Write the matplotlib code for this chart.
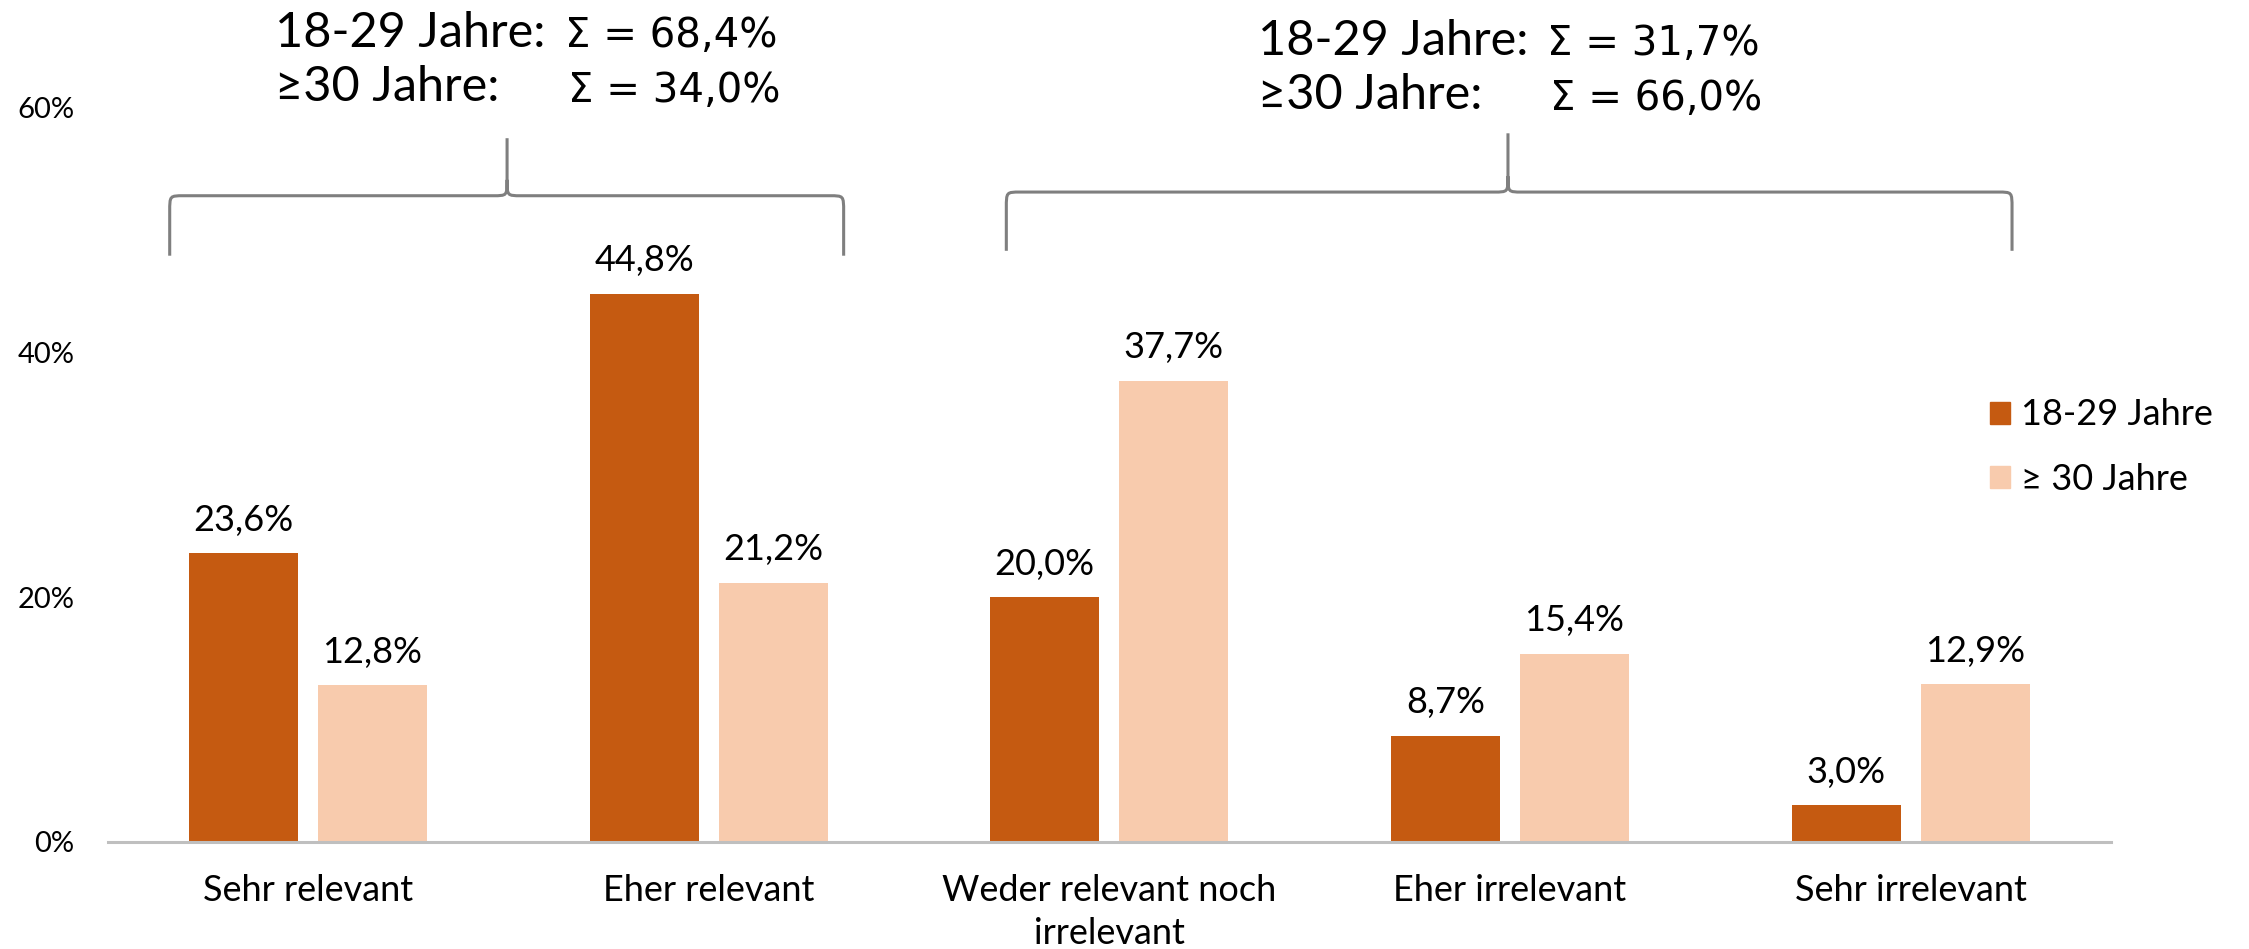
import matplotlib
matplotlib.use("Agg")
import matplotlib.pyplot as plt
from matplotlib.path import Path
from matplotlib.patches import PathPatch, Patch

plt.rcParams['font.family'] = ['Lato', 'DejaVu Sans']

categories = ["Sehr relevant", "Eher relevant", "Weder relevant noch\nirrelevant",
              "Eher irrelevant", "Sehr irrelevant"]
series_names = ["18-29 Jahre", "\u2265 30 Jahre"]
young = [23.6, 44.8, 20.0, 8.7, 3.0]
older = [12.8, 21.2, 37.7, 15.4, 12.9]
yticks = [0, 20, 40, 60]
sum_left = ["18-29 Jahre:", "\u226530 Jahre:"]
sum_left_vals = ["\u03a3 = 68,4%", "\u03a3 = 34,0%"]
sum_right = ["18-29 Jahre:", "\u226530 Jahre:"]
sum_right_vals = ["\u03a3 = 31,7%", "\u03a3 = 66,0%"]

c_dark = "#C55A11"
c_light = "#F8CBAD"

W, H = 2249, 949
fig = plt.figure(figsize=(W / 100, H / 100), dpi=100)
ax = fig.add_axes([107.6 / W, 1 - 842 / H, (2111 - 107.6) / W, (842 - 107.6) / H])

x = list(range(len(categories)))
bw = 0.272
off = 0.161
b1 = ax.bar([i - off for i in x], young, width=bw, color=c_dark, label=series_names[0])
b2 = ax.bar([i + off for i in x], older, width=bw, color=c_light, label=series_names[1])

for bars, vals in ((b1, young), (b2, older)):
    for r, v in zip(bars, vals):
        ax.annotate(f"{v:.1f}%".replace(".", ","), (r.get_x() + r.get_width() / 2, v),
                    xytext=(0, 16), textcoords="offset points", ha="center",
                    va="baseline", fontsize=26, color="black")

ax.set_xlim(-0.5, len(categories) - 0.5)
ax.set_ylim(0, 60)
ax.set_yticks(yticks)
ax.set_yticklabels([f"{t}%" for t in yticks], fontsize=21)
ax.set_xticks(x)
ax.set_xticklabels(categories, fontsize=26, linespacing=1.38)
ax.tick_params(axis="both", length=0)
ax.tick_params(axis="y", pad=24)
ax.tick_params(axis="x", pad=23)
for s in ("left", "right", "top"):
    ax.spines[s].set_visible(False)
ax.spines["bottom"].set_color("#BFBFBF")
ax.spines["bottom"].set_linewidth(2.2)


def bracket(xl, xp, xr, yb, yh, yt):
    rx, ry = 0.035, 1.3
    verts = [(xl, yb), (xl, yh - ry), (xl, yh), (xl, yh), (xl + rx, yh),
             (xp - rx, yh), (xp, yh), (xp, yh), (xp, yh + ry), (xp, yt),
             (xp, yh + ry), (xp, yh), (xp, yh), (xp + rx, yh),
             (xr - rx, yh), (xr, yh), (xr, yh), (xr, yh - ry), (xr, yb)]
    codes = [Path.MOVETO, Path.LINETO, Path.CURVE4, Path.CURVE4, Path.CURVE4,
             Path.LINETO, Path.CURVE4, Path.CURVE4, Path.CURVE4, Path.LINETO,
             Path.MOVETO, Path.CURVE4, Path.CURVE4, Path.CURVE4,
             Path.LINETO, Path.CURVE4, Path.CURVE4, Path.CURVE4, Path.LINETO]
    p = PathPatch(Path(verts, codes), facecolor="none", edgecolor="#7F7F7F",
                  lw=2.2, clip_on=False, capstyle="butt")
    ax.add_patch(p)


bracket(-0.345, 0.497, 1.337, 47.9, 52.8, 57.5)
bracket(1.743, 2.995, 4.253, 48.3, 53.1, 57.9)


def ftext(px, py, s, size=35, family=None):
    kw = {}
    if family:
        kw["family"] = family
    fig.text(px / W, 1 - py / H, s, fontsize=size, va="baseline", ha="left", **kw)


sig_font = ["DejaVu Sans"]
ftext(275, 47, sum_left[0]); ftext(565, 47, sum_left_vals[0], 29, sig_font)
ftext(275, 101, sum_left[1]); ftext(568, 102, sum_left_vals[1], 29, sig_font)
ftext(1258, 55, sum_right[0]); ftext(1547, 55, sum_right_vals[0], 29, sig_font)
ftext(1258, 109, sum_right[1]); ftext(1550, 110, sum_right_vals[1], 29, sig_font)

handles = [Patch(color=c_dark), Patch(color=c_light)]
fig.legend(handles, series_names, loc="center left",
           bbox_to_anchor=(1990 / W, 1 - 447 / H), frameon=False, fontsize=26,
           handlelength=0.56, handleheight=0.56, handletextpad=0.3,
           labelspacing=0.87, borderaxespad=0, borderpad=0)

fig.savefig("out.png", dpi=100)
